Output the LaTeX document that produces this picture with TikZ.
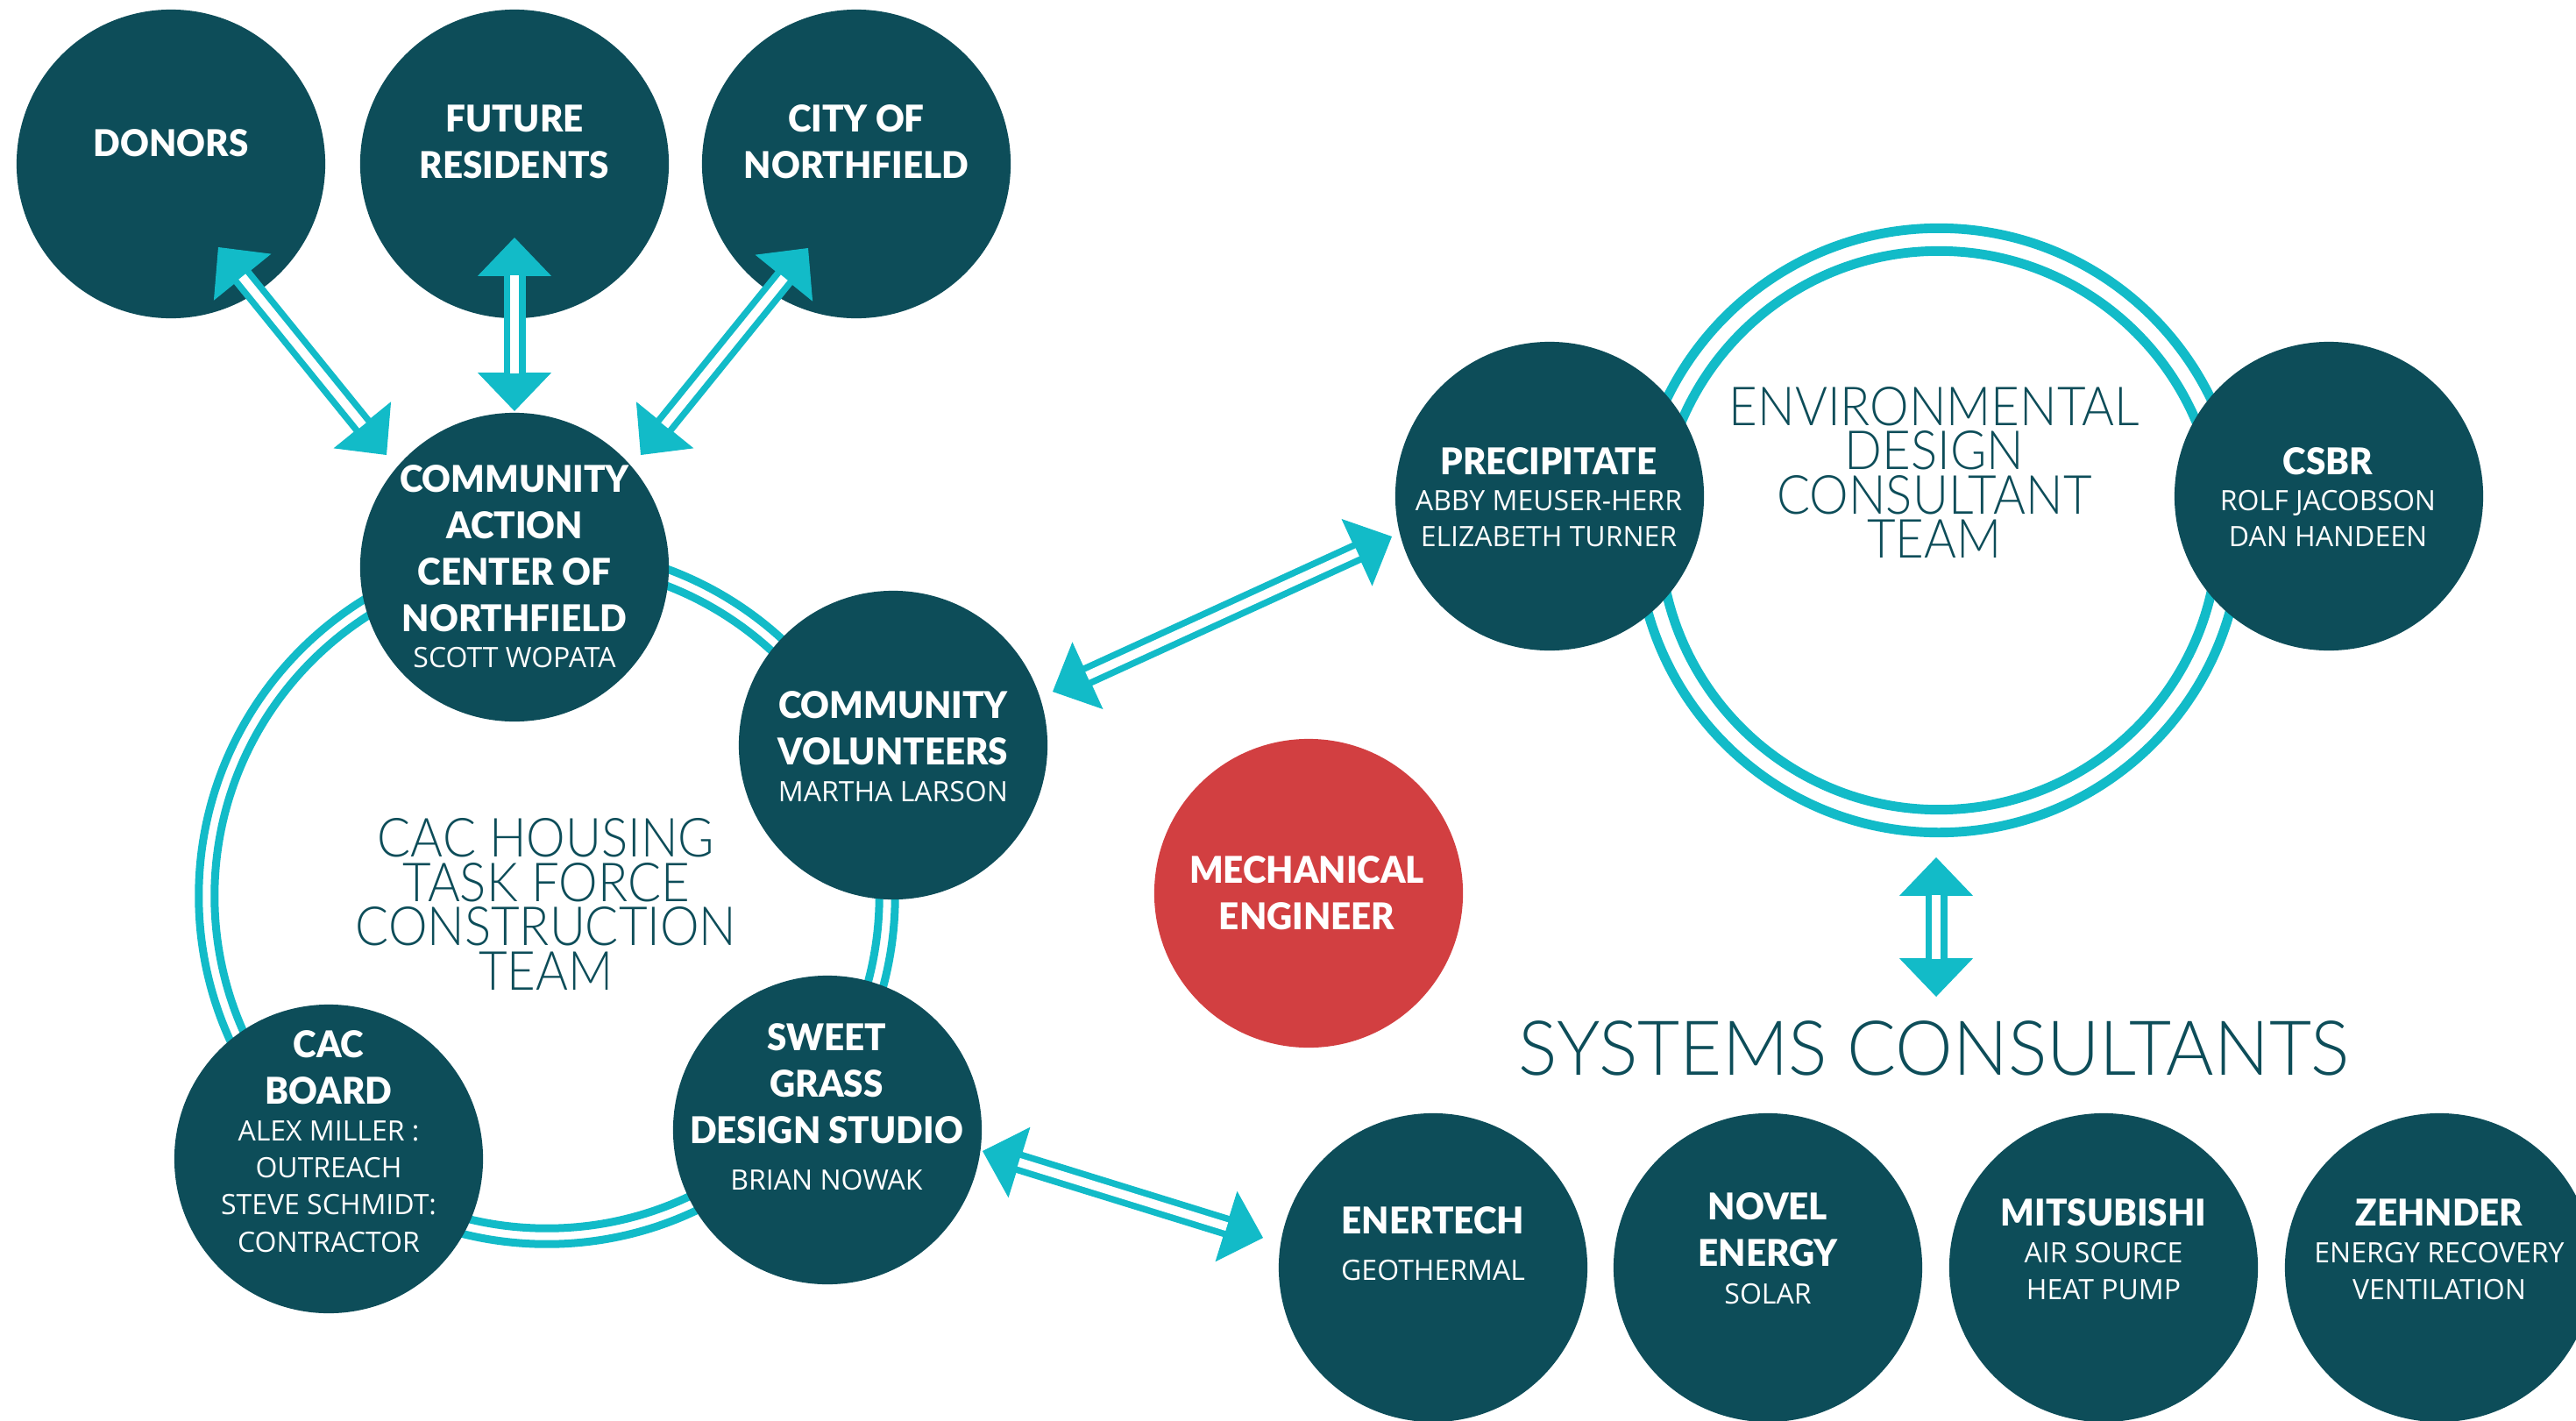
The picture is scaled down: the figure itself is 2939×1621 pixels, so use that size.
\documentclass[tikz,border=0pt]{standalone}
\usepackage{fontspec}
\setmainfont{Open Sans}
\IfFontExistsTF{Lato Light}
  {\newfontfamily\bigfont{Lato Light}[FakeStretch=0.915]\newfontfamily\sysfont{Lato Light}[FakeStretch=0.96]}
  {\newfontfamily\bigfont{Open Sans}[FakeStretch=0.92]\newfontfamily\sysfont{Open Sans}[FakeStretch=0.97]}
\IfFontExistsTF{Lato Black}
  {\newfontfamily\headfont{Lato Black}[FakeStretch=0.96]}
  {\newfontfamily\headfont{Open Sans}[FakeStretch=0.96]\let\oldheadfont\headfont\renewcommand\headfont{\oldheadfont\bfseries}}
\usetikzlibrary{arrows.meta,calc}
\definecolor{dteal}{RGB}{13,77,89}
\definecolor{acyan}{RGB}{18,187,200}
\definecolor{mred}{RGB}{210,63,65}
\newcommand\hdfont{\headfont\fontsize{11.95pt}{15.08pt}\selectfont}
\newcommand\nmfont{\normalfont\fontsize{9.1pt}{11.9pt}\selectfont}
\begin{document}
\begin{tikzpicture}[x=0.01cm,y=-0.01cm,
  bubble/.style={circle, fill=dteal, minimum size=3.52cm, inner sep=0pt},
  redbubble/.style={bubble, fill=mred},
  ctext/.style={text=white, align=center, inner sep=0pt, font=\hdfont},
  ringA/.style={circle, draw=acyan, line width=2.56pt, inner sep=0pt},
  ringB/.style={circle, draw=acyan, line width=3.1pt, inner sep=0pt},
  biglabel/.style={text=dteal, align=center, inner sep=0pt, font={\bigfont\fontsize{17.5pt}{14.4pt}\selectfont}},
  heads/.style={draw=acyan, fill=acyan, line width=0.3pt, {Triangle[length=12.5pt,width=23.9pt]}-{Triangle[length=12.5pt,width=23.9pt]}},
  shaft/.style={draw=acyan, line width=2.13pt, double=white, double distance=2.85pt, shorten <=12.3pt, shorten >=12.3pt},
]
\useasboundingbox (0,0) rectangle (2939,1621);
\fill[white] (0,0) rectangle (2939,1621);

% rings
\node[ringA, minimum size=7.94cm] (cacRingOut) at (624,1022) {};
\node[ringA, minimum size=7.58cm] (cacRingIn) at (624,1022) {};
\node[ringB, minimum size=6.89cm] (envRingOut) at (2212,605) {};
\node[ringB, minimum size=6.37cm] (envRingIn) at (2212,605) {};

% circles
\node[bubble] (donors) at (195,187) {};
\node[bubble] (future) at (587,187) {};
\node[bubble] (city) at (977,187) {};
\node[bubble] (cac) at (587,647) {};
\node[bubble] (vol) at (1019,850) {};
\node[bubble] (sweet) at (944,1289) {};
\node[bubble] (board) at (375,1322) {};
\node[redbubble] (mech) at (1493,1019) {};
\node[bubble] (precip) at (1768,566) {};
\node[bubble] (csbr) at (2657,566) {};
\node[bubble] (enertech) at (1635,1446) {};
\node[bubble] (novel) at (2017,1446) {};
\node[bubble] (mitsu) at (2400,1446) {};
\node[bubble] (zehnder) at (2783,1446) {};

% circle texts
\node[ctext] (donorsT) at (195,163) {DONORS};
\node[ctext] (futureT) at (587,161.5) {FUTURE\\RESIDENTS};
\node[ctext] (cityT) at (977,161.5) {CITY OF\\NORTHFIELD};
\node[ctext] (cacT) at (587,646) {COMMUNITY\\ACTION\\CENTER OF\\NORTHFIELD\\[-3.3pt]{\nmfont SCOTT WOPATA}};
\node[ctext] (volT) at (1019,851.5) {COMMUNITY\\VOLUNTEERS\\[-3.1pt]{\nmfont MARTHA LARSON}};
\node[ctext] (sweetT) at (943,1263) {SWEET\\GRASS\\DESIGN STUDIO\\{\nmfont BRIAN NOWAK}};
\node[ctext] (boardT) at (375,1302) {CAC\\BOARD\\[-3.1pt]{\nmfont ALEX MILLER :}\\[-3.1pt]{\nmfont OUTREACH}\\[-3.1pt]{\nmfont STEVE SCHMIDT:}\\[-3.1pt]{\nmfont CONTRACTOR}};
\node[ctext] (precipT) at (1767,567) {PRECIPITATE\\[-3.4pt]{\nmfont ABBY MEUSER-HERR}\\[-3.4pt]{\nmfont ELIZABETH TURNER}};
\node[ctext] (csbrT) at (2656,567) {CSBR\\[-3.4pt]{\nmfont ROLF JACOBSON}\\[-3.4pt]{\nmfont DAN HANDEEN}};
\node[ctext] (mechT) at (1491,1019) {MECHANICAL\\ENGINEER};
\node[ctext] (enerT) at (1635,1418.5) {ENERTECH\\{\nmfont GEOTHERMAL}};
\node[ctext] (novelT) at (2017,1424.5) {NOVEL\\ENERGY\\[-2.8pt]{\nmfont SOLAR}};
\node[ctext] (mitsuT) at (2400,1425) {MITSUBISHI\\[-3.1pt]{\nmfont AIR SOURCE}\\[-3.1pt]{\nmfont HEAT PUMP}};
\node[ctext] (zehT) at (2783,1425) {ZEHNDER\\[-3.1pt]{\nmfont ENERGY RECOVERY}\\[-3.1pt]{\nmfont VENTILATION}};

% big labels
\node[biglabel] (cacTeam) at (623,1031.5) {CAC HOUSING\\TASK FORCE\\CONSTRUCTION\\TEAM};
\node[biglabel] (envTeam) at (2207,539) {ENVIRONMENTAL\\DESIGN\\CONSULTANT\\TEAM};
\node[text=dteal, inner sep=0pt, anchor=base, font={\sysfont\fontsize{24.6pt}{28pt}\selectfont}] (systems) at (2207,1226) {SYSTEMS CONSULTANTS};

% arrow end points
\coordinate (dA) at ($(donors.center)+(54,95)$);
\coordinate (dB) at ($(cac.center)+(-146,-128)$);
\coordinate (fA) at ($(future.center)+(0,84)$);
\coordinate (fB) at ($(cac.center)+(0,-178)$);
\coordinate (cA) at ($(city.center)+(-55,96)$);
\coordinate (cB) at ($(cac.center)+(144,-128)$);
\coordinate (vA) at ($(vol.center)+(182,-61)$);
\coordinate (vB) at ($(precip.center)+(-180,46)$);
\coordinate (sA) at ($(sweet.center)+(177,24)$);
\coordinate (sB) at ($(enertech.center)+(-194,-34)$);
\coordinate (eA) at ($(envRingOut.center)+(-3,373)$);
\coordinate (eB) at ($(systems.base)+(2,-89)$);

% arrows
\foreach \a/\b in {dA/dB, fA/fB, cA/cB, vA/vB, sA/sB, eA/eB}{
  \draw[heads] (\a) -- (\b);
  \draw[shaft] (\a) -- (\b);
}
\end{tikzpicture}
\end{document}
